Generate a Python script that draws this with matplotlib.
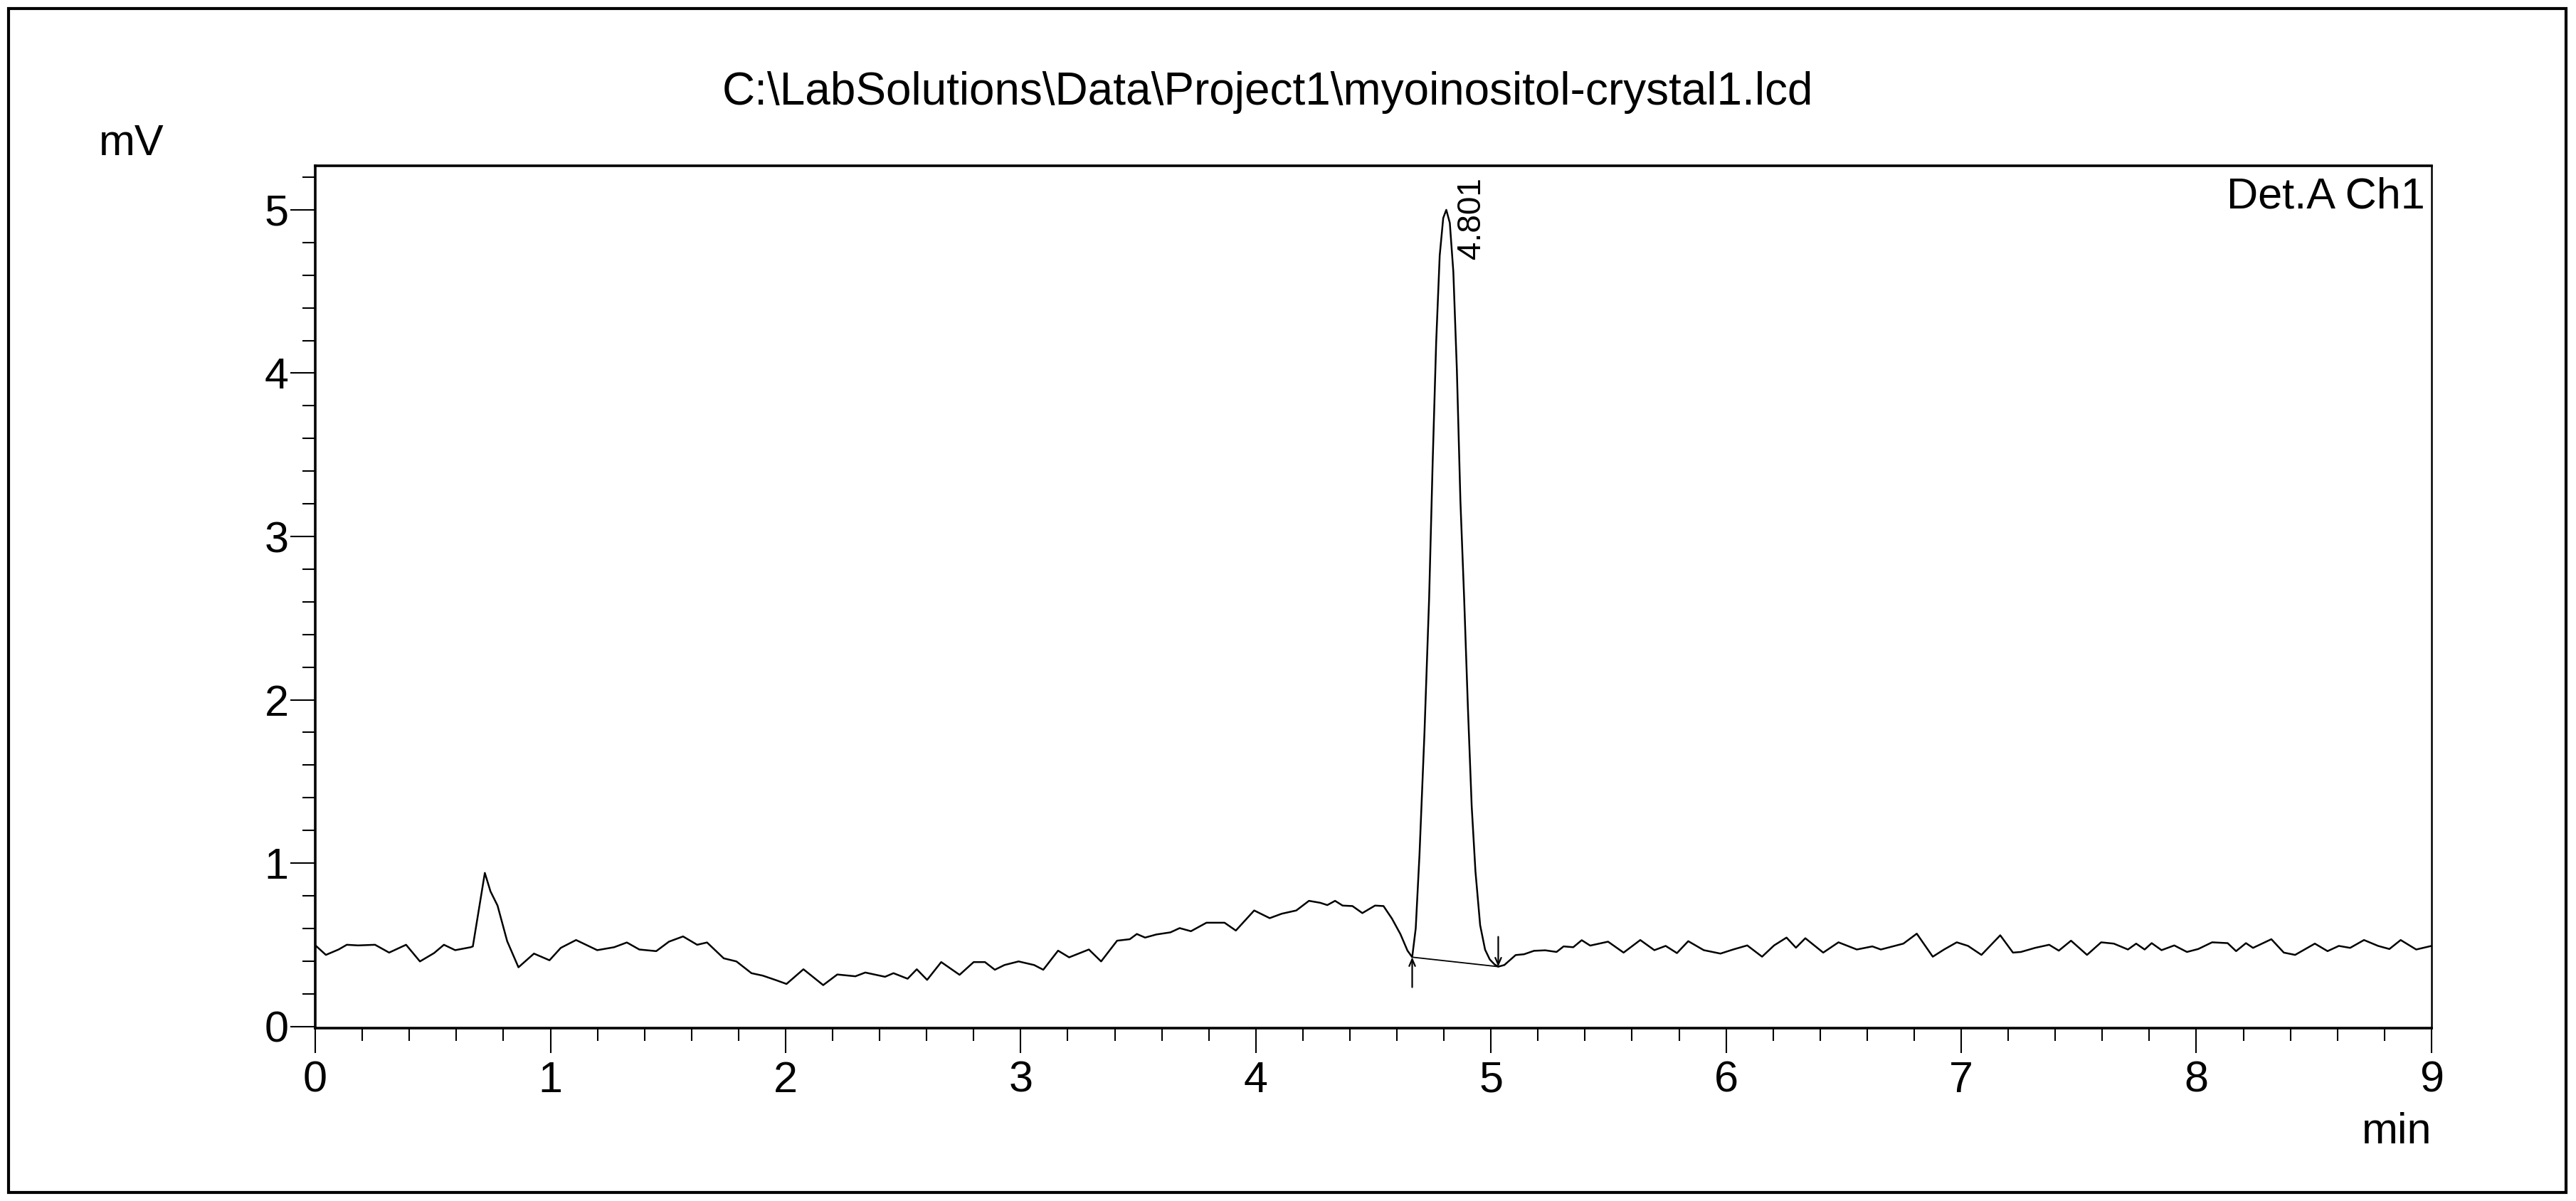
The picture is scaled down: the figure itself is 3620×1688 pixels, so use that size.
import matplotlib.pyplot as plt
from matplotlib.patches import Rectangle
from matplotlib.ticker import MultipleLocator

plt.rcParams['font.family'] = ['Liberation Sans', 'DejaVu Sans']

title = "C:\\LabSolutions\\Data\\Project1\\myoinositol-crystal1.lcd"

# chromatogram trace (min, mV)
time = [0.003, 0.045, 0.099, 0.134, 0.182, 0.254, 0.314, 0.386, 0.445, 0.505,
        0.547, 0.595, 0.661, 0.670, 0.721, 0.745, 0.775, 0.816, 0.864, 0.930,
        0.996, 1.044, 1.109, 1.199, 1.271, 1.325, 1.378, 1.450, 1.504, 1.564,
        1.624, 1.666, 1.737, 1.791, 1.855, 1.903, 1.962, 2.004, 2.076, 2.160,
        2.220, 2.297, 2.339, 2.423, 2.459, 2.519, 2.558, 2.602, 2.662, 2.740,
        2.800, 2.848, 2.890, 2.931, 2.991, 3.057, 3.096, 3.159, 3.206, 3.290,
        3.342, 3.410, 3.464, 3.494, 3.529, 3.577, 3.637, 3.676, 3.724, 3.790,
        3.867, 3.915, 3.993, 4.059, 4.110, 4.172, 4.226, 4.274, 4.304, 4.337,
        4.369, 4.411, 4.453, 4.507, 4.543, 4.579, 4.615, 4.645, 4.665,
        4.680, 4.696, 4.717, 4.737, 4.752, 4.767, 4.782, 4.797, 4.810, 4.825,
        4.840, 4.855, 4.870, 4.886, 4.902, 4.918, 4.934, 4.954, 4.975, 4.995,
        5.015, 5.031, 5.057, 5.105, 5.141, 5.183, 5.231, 5.279, 5.309, 5.350,
        5.386, 5.422, 5.498, 5.564, 5.635, 5.695, 5.743, 5.791, 5.839, 5.905,
        5.976, 6.030, 6.090, 6.153, 6.204, 6.257, 6.297, 6.337, 6.413, 6.478,
        6.556, 6.622, 6.658, 6.754, 6.811, 6.879, 6.927, 6.981, 7.029, 7.086,
        7.166, 7.220, 7.254, 7.314, 7.374, 7.415, 7.467, 7.535, 7.595, 7.649,
        7.709, 7.744, 7.780, 7.810, 7.852, 7.906, 7.960, 8.008, 8.067, 8.133,
        8.169, 8.211, 8.241, 8.319, 8.372, 8.420, 8.504, 8.558, 8.606, 8.654,
        8.713, 8.773, 8.821, 8.869, 8.935, 9.000]
signal = [0.493, 0.438, 0.471, 0.500, 0.496, 0.500, 0.452, 0.500, 0.398, 0.449,
          0.500, 0.467, 0.485, 0.490, 0.940, 0.827, 0.740, 0.522, 0.362, 0.446,
          0.405, 0.481, 0.529, 0.467, 0.485, 0.514, 0.471, 0.461, 0.519, 0.551,
          0.500, 0.514, 0.417, 0.398, 0.326, 0.311, 0.282, 0.260, 0.350, 0.253,
          0.318, 0.307, 0.330, 0.304, 0.326, 0.292, 0.350, 0.285, 0.394, 0.316,
          0.394, 0.394, 0.347, 0.376, 0.398, 0.376, 0.347, 0.464, 0.423, 0.471,
          0.398, 0.525, 0.534, 0.566, 0.544, 0.563, 0.576, 0.602, 0.583, 0.635,
          0.635, 0.587, 0.710, 0.663, 0.690, 0.710, 0.769, 0.757, 0.743, 0.769,
          0.740, 0.737, 0.694, 0.740, 0.737, 0.660, 0.565, 0.464, 0.424,
          0.600, 1.050, 1.790, 2.620, 3.450, 4.190, 4.720, 4.950, 5.000, 4.920,
          4.620, 4.020, 3.220, 2.620, 1.950, 1.350, 0.950, 0.620, 0.470, 0.410,
          0.380, 0.366, 0.376, 0.437, 0.442, 0.463, 0.466, 0.456, 0.490, 0.485,
          0.528, 0.495, 0.519, 0.452, 0.529, 0.467, 0.493, 0.449, 0.522, 0.467,
          0.446, 0.471, 0.496, 0.427, 0.496, 0.544, 0.482, 0.540, 0.452, 0.515,
          0.471, 0.490, 0.471, 0.507, 0.568, 0.427, 0.471, 0.515, 0.493, 0.438,
          0.558, 0.452, 0.456, 0.481, 0.500, 0.464, 0.525, 0.438, 0.515, 0.507,
          0.471, 0.507, 0.471, 0.510, 0.467, 0.496, 0.456, 0.474, 0.515, 0.510,
          0.461, 0.510, 0.481, 0.534, 0.452, 0.438, 0.507, 0.461, 0.493, 0.481,
          0.529, 0.493, 0.474, 0.529, 0.471, 0.493]

# integration of the peak
peak_rt = 4.801
peak_label_x = 4.918
peak_start = (4.665, 0.424)
peak_end = (5.031, 0.366)
start_tail = 0.240
end_tail = 0.549

fig = plt.figure(figsize=(36.2, 16.88), dpi=100)
ax = fig.add_axes([0.1224, 0.1440, 0.8215, 0.7180])

ax.plot(time, signal, color="black", lw=1.8)
ax.plot([peak_start[0], peak_end[0]], [peak_start[1], peak_end[1]], color="black", lw=1.3)

arrow = dict(arrowstyle="->,head_length=0.7,head_width=0.3", color="black", lw=1.6,
             shrinkA=0, shrinkB=0)
ax.annotate("", xy=peak_start, xytext=(peak_start[0], start_tail), arrowprops=arrow)
ax.annotate("", xy=peak_end, xytext=(peak_end[0], end_tail), arrowprops=arrow)

ax.text(peak_label_x, 5.20, f"{peak_rt:.3f}", rotation=90, ha="center", va="top", fontsize=33)

ax.set_xlim(0, 9)
ax.set_ylim(-0.01, 5.27)
ax.xaxis.set_major_locator(MultipleLocator(1))
ax.xaxis.set_minor_locator(MultipleLocator(0.2))
ax.yaxis.set_major_locator(MultipleLocator(1))
ax.yaxis.set_minor_locator(MultipleLocator(0.2))

ax.tick_params(which="major", direction="out", length=25, width=1.5, labelsize=44)
ax.tick_params(which="minor", direction="out", length=13, width=1.5)
ax.tick_params(axis="x", which="major", pad=8)
ax.tick_params(axis="y", which="major", pad=2)

for side in ["left", "bottom", "top"]:
    ax.spines[side].set_linewidth(2.6)
ax.spines["right"].set_linewidth(1.8)

ax.text(0.997, 0.951, "Det.A Ch1", transform=ax.transAxes, ha="right", va="baseline", fontsize=44)

fig.text(0.492, 1 - 147 / 1688, title, ha="center", va="baseline", fontsize=46)
fig.text(139 / 3620, 1 - 218 / 1688, "mV", ha="left", va="baseline", fontsize=44)
fig.text(3417 / 3620, 1 - 1607 / 1688, "min", ha="right", va="baseline", fontsize=44)

# outer frame around the whole report
fig.add_artist(Rectangle((12 / 3620, 12 / 1688), 3594 / 3620, 1664 / 1688,
                         transform=fig.transFigure, fill=False, lw=3.0, ec="black"))

fig.savefig("out.png", dpi=100)
